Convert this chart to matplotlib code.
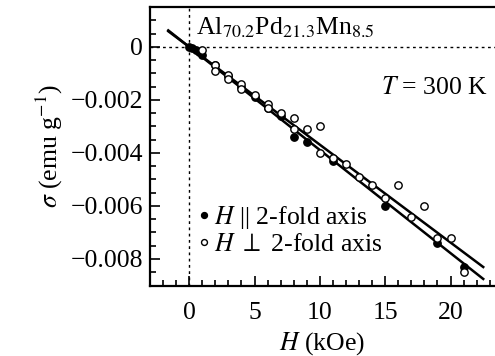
import numpy as np
import matplotlib
matplotlib.use("Agg")
import matplotlib.pyplot as plt
from matplotlib.ticker import MultipleLocator

plt.rcParams['font.family'] = ['Liberation Serif', 'DejaVu Serif']
plt.rcParams['mathtext.fontset'] = 'stix'

# H || 2-fold axis (filled circles)
h_par = [0, 0.25, 0.5, 0.75, 1, 2, 3, 4, 5, 6, 7, 8, 9, 11, 15, 19, 21]
s_par = [0, -0.00005, -0.0001, -0.0002, -0.0003, -0.0007, -0.0011, -0.0015,
         -0.0019, -0.0023, -0.0026, -0.0034, -0.0036, -0.0043, -0.0060,
         -0.0074, -0.0083]

# H perp 2-fold axis (open circles)
h_perp = [1, 2, 2, 3, 3, 4, 4, 5, 6, 6, 7, 8, 8, 9, 10, 10, 11, 12, 13, 14,
          15, 16, 17, 18, 19, 20, 21]
s_perp = [-0.0001, -0.0007, -0.0009, -0.00105, -0.0012, -0.0014, -0.0016,
          -0.0018, -0.00215, -0.0023, -0.0025, -0.0027, -0.0031, -0.0031,
          -0.0030, -0.0040, -0.0042, -0.0044, -0.0049, -0.0052, -0.0057,
          -0.0052, -0.0064, -0.0060, -0.0072, -0.0072, -0.0085]

# linear fits (slopes in emu/g per kOe)
fit_x = [-1.6, 22.5]
slope_upper = -0.000369
slope_lower = -0.000389

FS = 18.5

fig = plt.figure(figsize=(4.95, 3.56), dpi=100)
ax = fig.add_axes([0.303, 0.198, 0.697, 0.782])

ax.axhline(0, color='black', linestyle=(0, (2, 2.5)), linewidth=1.0)
ax.axvline(0, color='black', linestyle=(0, (2, 2.5)), linewidth=1.0)

fx = np.array(fit_x)
ax.plot(fx, slope_upper * fx, color='black', linewidth=1.8)
ax.plot(fx, slope_lower * fx, color='black', linewidth=1.8)

ax.plot(h_par, s_par, 'o', color='black', markersize=5.3, zorder=3,
        label=r'$H$ || 2-fold axis')
ax.plot(h_perp, s_perp, 'o', markerfacecolor='white', markeredgecolor='black',
        markeredgewidth=1.0, markersize=5.3, zorder=4,
        label=r'$H\ \perp$ 2-fold axis')

ax.set_xlim(-3, 23.4)
ax.set_ylim(-0.009, 0.0015)
ax.xaxis.set_major_locator(MultipleLocator(5))
ax.xaxis.set_minor_locator(MultipleLocator(1))
ax.yaxis.set_minor_locator(MultipleLocator(0.0005))
ax.set_yticks([0, -0.002, -0.004, -0.006, -0.008])
ax.set_yticklabels(['0', '\u22120.002', '\u22120.004', '\u22120.006', '\u22120.008'])

ax.tick_params(which='both', direction='in', labelsize=FS, width=1.2)
ax.tick_params(which='major', length=7)
ax.tick_params(which='minor', length=4.5)
ax.tick_params(axis='x', pad=12)
ax.tick_params(axis='y', pad=5)
for side in ['left', 'bottom', 'top']:
    ax.spines[side].set_linewidth(1.6)
ax.spines['right'].set_visible(False)

ax.set_xlabel(r'$H$ (kOe)', fontsize=FS, labelpad=4)
ax.set_ylabel(r'$\sigma$ (emu g$^{-1}$)', fontsize=FS, labelpad=4)

ax.text(0.5, 0.00072, r'Al$_{70.2}$Pd$_{21.3}$Mn$_{8.5}$', fontsize=FS,
        va='center', ha='left')
ax.text(14.7, -0.00155, r'$T$ = 300 K', fontsize=FS, va='center', ha='left')

ax.legend(loc='lower left', bbox_to_anchor=(0.115, 0.07), frameon=False,
          fontsize=FS, handlelength=0.3, handletextpad=0.25, labelspacing=0.05,
          borderaxespad=0, markerscale=0.8)

fig.savefig('out.png', dpi=100)
